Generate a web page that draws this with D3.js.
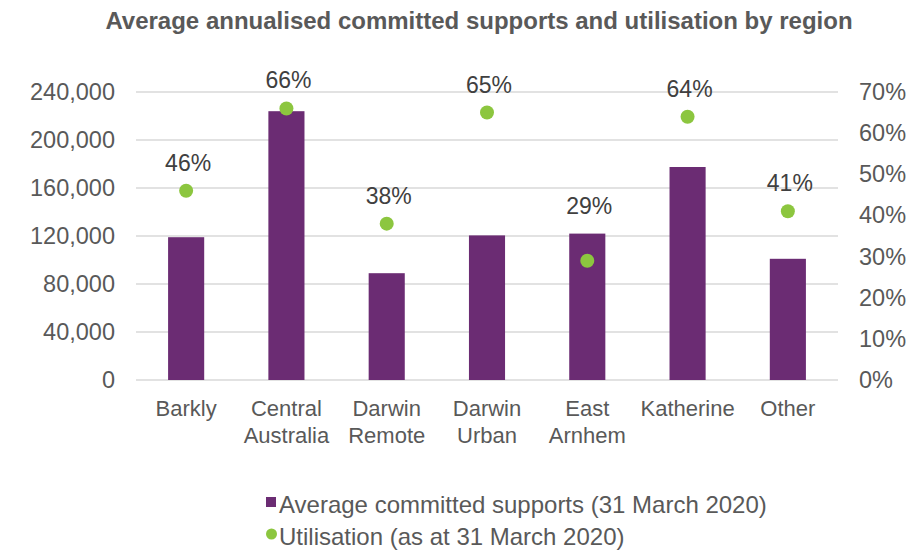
<!DOCTYPE html>
<html>
<head>
<meta charset="utf-8">
<script src="https://cdn.jsdelivr.net/npm/d3@7"></script>
<style>
  body { margin: 0; background: #fff; }
  svg text { font-family: "Liberation Sans", Arial, sans-serif; }
</style>
</head>
<body>
<div id="chart"></div>
<script>
// chart data
var regions = ["Barkly", "Central Australia", "Darwin Remote", "Darwin Urban", "East Arnhem", "Katherine", "Other"];
var committed = [119000, 224000, 89000, 120500, 122000, 177500, 101000];
var utilisation = [0.46, 0.66, 0.38, 0.65, 0.29, 0.64, 0.41];
var leftTicks = [0, 40000, 80000, 120000, 160000, 200000, 240000];
var rightTicks = [0, 0.1, 0.2, 0.3, 0.4, 0.5, 0.6, 0.7];
var seriesNames = ["Average committed supports (31 March 2020)", "Utilisation (as at 31 March 2020)"];

var width = 914, height = 554;
var purple = "#6b2c73", green = "#8cc63f";
var textCol = "#595959";

var svg = d3.select("#chart").append("svg")
    .attr("width", width)
    .attr("height", height);

var x = d3.scaleBand()
    .domain(regions)
    .range([136, 838])
    .paddingInner(0.64)
    .paddingOuter(0.32);

var yL = d3.scaleLinear().domain([0, 240000]).range([380, 92]);
var yR = d3.scaleLinear().domain([0, 0.7]).range([380, 92]);

// title
svg.append("text")
    .attr("x", 479)
    .attr("y", 29)
    .attr("text-anchor", "middle")
    .attr("font-size", 24)
    .attr("font-weight", "bold")
    .attr("fill", textCol)
    .text("Average annualised committed supports and utilisation by region");

// gridlines
svg.append("g").selectAll("line")
    .data(leftTicks)
    .enter().append("line")
    .attr("x1", 136).attr("x2", 838)
    .attr("y1", function(d) { return yL(d); })
    .attr("y2", function(d) { return yL(d); })
    .attr("stroke", "#d9d9d9")
    .attr("stroke-width", 1.5);

// left axis
var gl = svg.append("g")
    .attr("transform", "translate(136,0)")
    .call(d3.axisLeft(yL).tickValues(leftTicks).tickSize(0).tickPadding(21)
        .tickFormat(d3.format(",")));
gl.select(".domain").remove();
gl.selectAll("text")
    .attr("font-size", 23.5)
    .attr("fill", textCol)
    .style("font-family", "Liberation Sans, Arial, sans-serif");

// right axis
var gr = svg.append("g")
    .attr("transform", "translate(838,0)")
    .call(d3.axisRight(yR).tickValues(rightTicks).tickSize(0).tickPadding(21)
        .tickFormat(d3.format(".0%")));
gr.select(".domain").remove();
gr.selectAll("text")
    .attr("font-size", 23.5)
    .attr("fill", textCol)
    .style("font-family", "Liberation Sans, Arial, sans-serif");

// category axis
var gx = svg.append("g")
    .attr("transform", "translate(0,380)")
    .call(d3.axisBottom(x).tickSize(0).tickPadding(0));
gx.select(".domain").remove();
gx.selectAll("text").each(function(d) {
    var t = d3.select(this).text("");
    t.attr("y", 0).attr("dy", null)
        .attr("font-size", 22)
        .attr("fill", textCol)
        .style("font-family", "Liberation Sans, Arial, sans-serif");
    d.split(" ").forEach(function(w, i) {
        t.append("tspan")
            .attr("x", 0)
            .attr("y", 36 + i * 27)
            .text(w);
    });
});

// bars
svg.append("g").selectAll("rect")
    .data(regions)
    .enter().append("rect")
    .attr("x", function(d) { return x(d); })
    .attr("y", function(d, i) { return yL(committed[i]); })
    .attr("width", x.bandwidth())
    .attr("height", function(d, i) { return yL(0) - yL(committed[i]); })
    .attr("fill", purple);

// utilisation points
svg.append("g").selectAll("circle")
    .data(regions)
    .enter().append("circle")
    .attr("cx", function(d) { return x(d) + x.bandwidth() / 2; })
    .attr("cy", function(d, i) { return yR(utilisation[i]); })
    .attr("r", 7)
    .attr("fill", green);

// point labels
svg.append("g").selectAll("text")
    .data(regions)
    .enter().append("text")
    .attr("x", function(d) { return x(d) + x.bandwidth() / 2 + 2; })
    .attr("y", function(d, i) {
        return Math.min(yR(utilisation[i]), yL(committed[i])) - 20;
    })
    .attr("text-anchor", "middle")
    .attr("font-size", 23)
    .attr("fill", "#404040")
    .text(function(d, i) { return d3.format(".0%")(utilisation[i]); });

// legend
var lg = svg.append("g");
lg.append("rect")
    .attr("x", 266).attr("y", 497)
    .attr("width", 10).attr("height", 10)
    .attr("fill", purple);
lg.append("text")
    .attr("x", 279).attr("y", 513)
    .attr("font-size", 24)
    .attr("fill", textCol)
    .text(seriesNames[0]);
lg.append("circle")
    .attr("cx", 271.5).attr("cy", 534)
    .attr("r", 5.5)
    .attr("fill", green);
lg.append("text")
    .attr("x", 279).attr("y", 545)
    .attr("font-size", 24)
    .attr("fill", textCol)
    .text(seriesNames[1]);
</script>
</body>
</html>
